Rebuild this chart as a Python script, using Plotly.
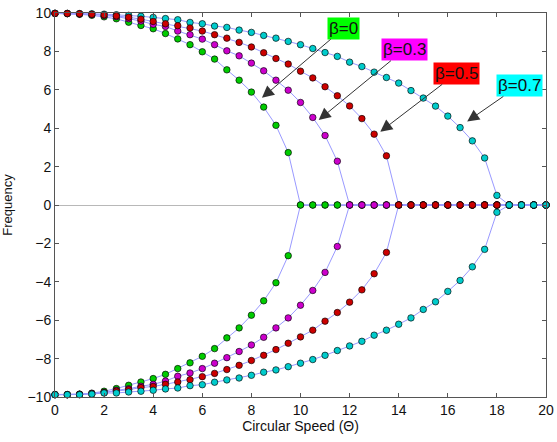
import plotly.graph_objects as go

THETA = [0, 0.5, 1, 1.5, 2, 2.5, 3, 3.5, 4, 4.5, 5, 5.5, 6, 6.5, 7, 7.5, 8, 8.5, 9, 9.5,
         10, 10.5, 11, 11.5, 12, 12.5, 13, 13.5, 14, 14.5, 15, 15.5, 16, 16.5, 17, 17.5,
         18, 18.5, 19, 19.5, 20]

GREEN_UP = [9.98, 9.97, 9.93, 9.88, 9.80, 9.70, 9.52, 9.35, 9.18, 8.93, 8.65, 8.35, 7.98, 7.60,
            7.04, 6.50, 5.88, 5.10, 4.15, 2.73, 0,
            0, 0, 0, 0, 0, 0, 0, 0, 0, 0, 0, 0, 0, 0, 0, 0, 0, 0, 0, 0]
GREEN_LO = [-9.87, -9.87, -9.85, -9.80, -9.70, -9.56, -9.39, -9.22, -9.04, -8.82, -8.52, -8.22,
            -7.88, -7.48, -6.92, -6.40, -5.74, -4.99, -4.05, -2.64, 0,
            0, 0, 0, 0, 0, 0, 0, 0, 0, 0, 0, 0, 0, 0, 0, 0, 0, 0, 0, 0]

MAGENTA_UP = [9.98, 9.97, 9.95, 9.92, 9.87, 9.81, 9.70, 9.58, 9.41, 9.30, 9.06, 8.87, 8.64, 8.35,
              8.03, 7.77, 7.39, 6.99, 6.50, 5.98, 5.34, 4.56, 3.62, 2.28, 0,
              0, 0, 0, 0, 0, 0, 0, 0, 0, 0, 0, 0, 0, 0, 0, 0]
MAGENTA_LO = [-9.88, -9.88, -9.86, -9.82, -9.77, -9.65, -9.57, -9.44, -9.34, -9.17, -8.92, -8.75,
              -8.52, -8.24, -7.95, -7.63, -7.29, -6.89, -6.40, -5.88, -5.22, -4.45, -3.51, -2.16, 0,
              0, 0, 0, 0, 0, 0, 0, 0, 0, 0, 0, 0, 0, 0, 0, 0]

RED_UP = [9.98, 9.97, 9.96, 9.93, 9.90, 9.85, 9.78, 9.68, 9.56, 9.44, 9.34, 9.22, 9.06, 8.87,
          8.69, 8.47, 8.23, 7.93, 7.63, 7.34, 6.97, 6.62, 6.16, 5.69, 5.16, 4.50, 3.69, 2.56, 0,
          0, 0, 0, 0, 0, 0, 0, 0, 0, 0, 0, 0]
RED_LO = [-9.88, -9.88, -9.87, -9.83, -9.77, -9.69, -9.62, -9.51, -9.45, -9.34, -9.22, -9.10,
          -8.94, -8.77, -8.57, -8.35, -8.10, -7.83, -7.53, -7.20, -6.87, -6.52, -6.05, -5.60,
          -5.06, -4.42, -3.58, -2.47, 0,
          0, 0, 0, 0, 0, 0, 0, 0, 0, 0, 0, 0]

CYAN_UP = [9.98, 9.98, 9.97, 9.96, 9.94, 9.91, 9.88, 9.83, 9.77, 9.71, 9.65, 9.51, 9.44, 9.32,
           9.25, 9.11, 8.99, 8.83, 8.69, 8.52, 8.35, 8.15, 7.94, 7.74, 7.44, 7.21, 6.92, 6.64,
           6.35, 5.96, 5.57, 5.15, 4.63, 4.03, 3.34, 2.45, 0.50, 0, 0, 0, 0]
CYAN_LO = [-9.88, -9.88, -9.88, -9.85, -9.79, -9.79, -9.74, -9.70, -9.65, -9.58, -9.53, -9.41,
           -9.36, -9.23, -9.11, -9.01, -8.87, -8.71, -8.59, -8.42, -8.24, -8.05, -7.83, -7.58,
           -7.34, -7.10, -6.78, -6.52, -6.21, -5.88, -5.44, -5.04, -4.50, -3.93, -3.22, -2.31,
           -0.38, 0, 0, 0, 0]

LABELS = ["β=0", "β=0.3", "β=0.5", "β=0.7"]
ARROW_TIP_X = [8.43, 10.74, 13.25, 16.79]
ARROW_TIP_Y = [5.58, 4.43, 3.82, 4.35]
BOX_X = [11.76, 14.23, 16.36, 18.91]
BOX_Y = [9.21, 8.09, 6.86, 6.23]
BOX_COLORS = ["#00ff00", "#ff00ff", "#ff0000", "#00ffff"]

MARK = {"g": "#00cc00", "m": "#cc00cc", "r": "#cc0000", "c": "#00cccc"}
LINE_COLOR = "#9999ff"

fig = go.Figure()

def add(y, col):
    fig.add_trace(go.Scatter(
        x=THETA, y=y, mode="lines+markers",
        line=dict(color=LINE_COLOR, width=1),
        marker=dict(size=6.5, color=col, line=dict(color="rgba(0,0,0,0.65)", width=1)),
        showlegend=False, hoverinfo="skip", cliponaxis=False))

# upper branches
add(GREEN_UP, MARK["g"])
add(MAGENTA_UP, MARK["m"])
add(CYAN_UP, MARK["c"])
add(RED_UP, MARK["r"])
# lower branches
add(GREEN_LO, MARK["g"])
add(MAGENTA_LO, MARK["m"])
add(RED_LO, MARK["r"])
add(CYAN_LO, MARK["c"])

for lab, tx, ty, bx, by, bc in zip(LABELS, ARROW_TIP_X, ARROW_TIP_Y, BOX_X, BOX_Y, BOX_COLORS):
    fig.add_annotation(
        x=tx, y=ty, xref="x", yref="y", ax=bx, ay=by, axref="x", ayref="y",
        text=lab, showarrow=True, arrowhead=2, arrowsize=2.4, arrowwidth=1,
        arrowcolor="#333333", bgcolor=bc, borderpad=1,
        font=dict(family="Arial", size=17, color="#111111"))

axis_common = dict(
    showline=True, linecolor="#555555", linewidth=1, mirror="allticks",
    ticks="inside", ticklen=4, tickcolor="#555555", tickwidth=1, automargin=False,
    showgrid=False, tickfont=dict(family="Arial", size=14, color="#111111"))

fig.update_xaxes(range=[0, 20], dtick=2, tick0=0, zeroline=False,
                 title=dict(text="Circular Speed (Θ)", font=dict(family="Arial", size=14, color="#111111"),
                            standoff=4),
                 **axis_common)
fig.update_yaxes(range=[-10, 10], dtick=2, tick0=0, zeroline=True, zerolinecolor="#b8b8b8",
                 zerolinewidth=1,
                 title=dict(text="Frequency", font=dict(family="Arial", size=13, color="#111111"),
                            standoff=14),
                 **axis_common)

fig.update_layout(
    width=557, height=442,
    margin=dict(l=55, r=11, t=13, b=45),
    plot_bgcolor="white", paper_bgcolor="white",
)

fig.write_html("out.html")
